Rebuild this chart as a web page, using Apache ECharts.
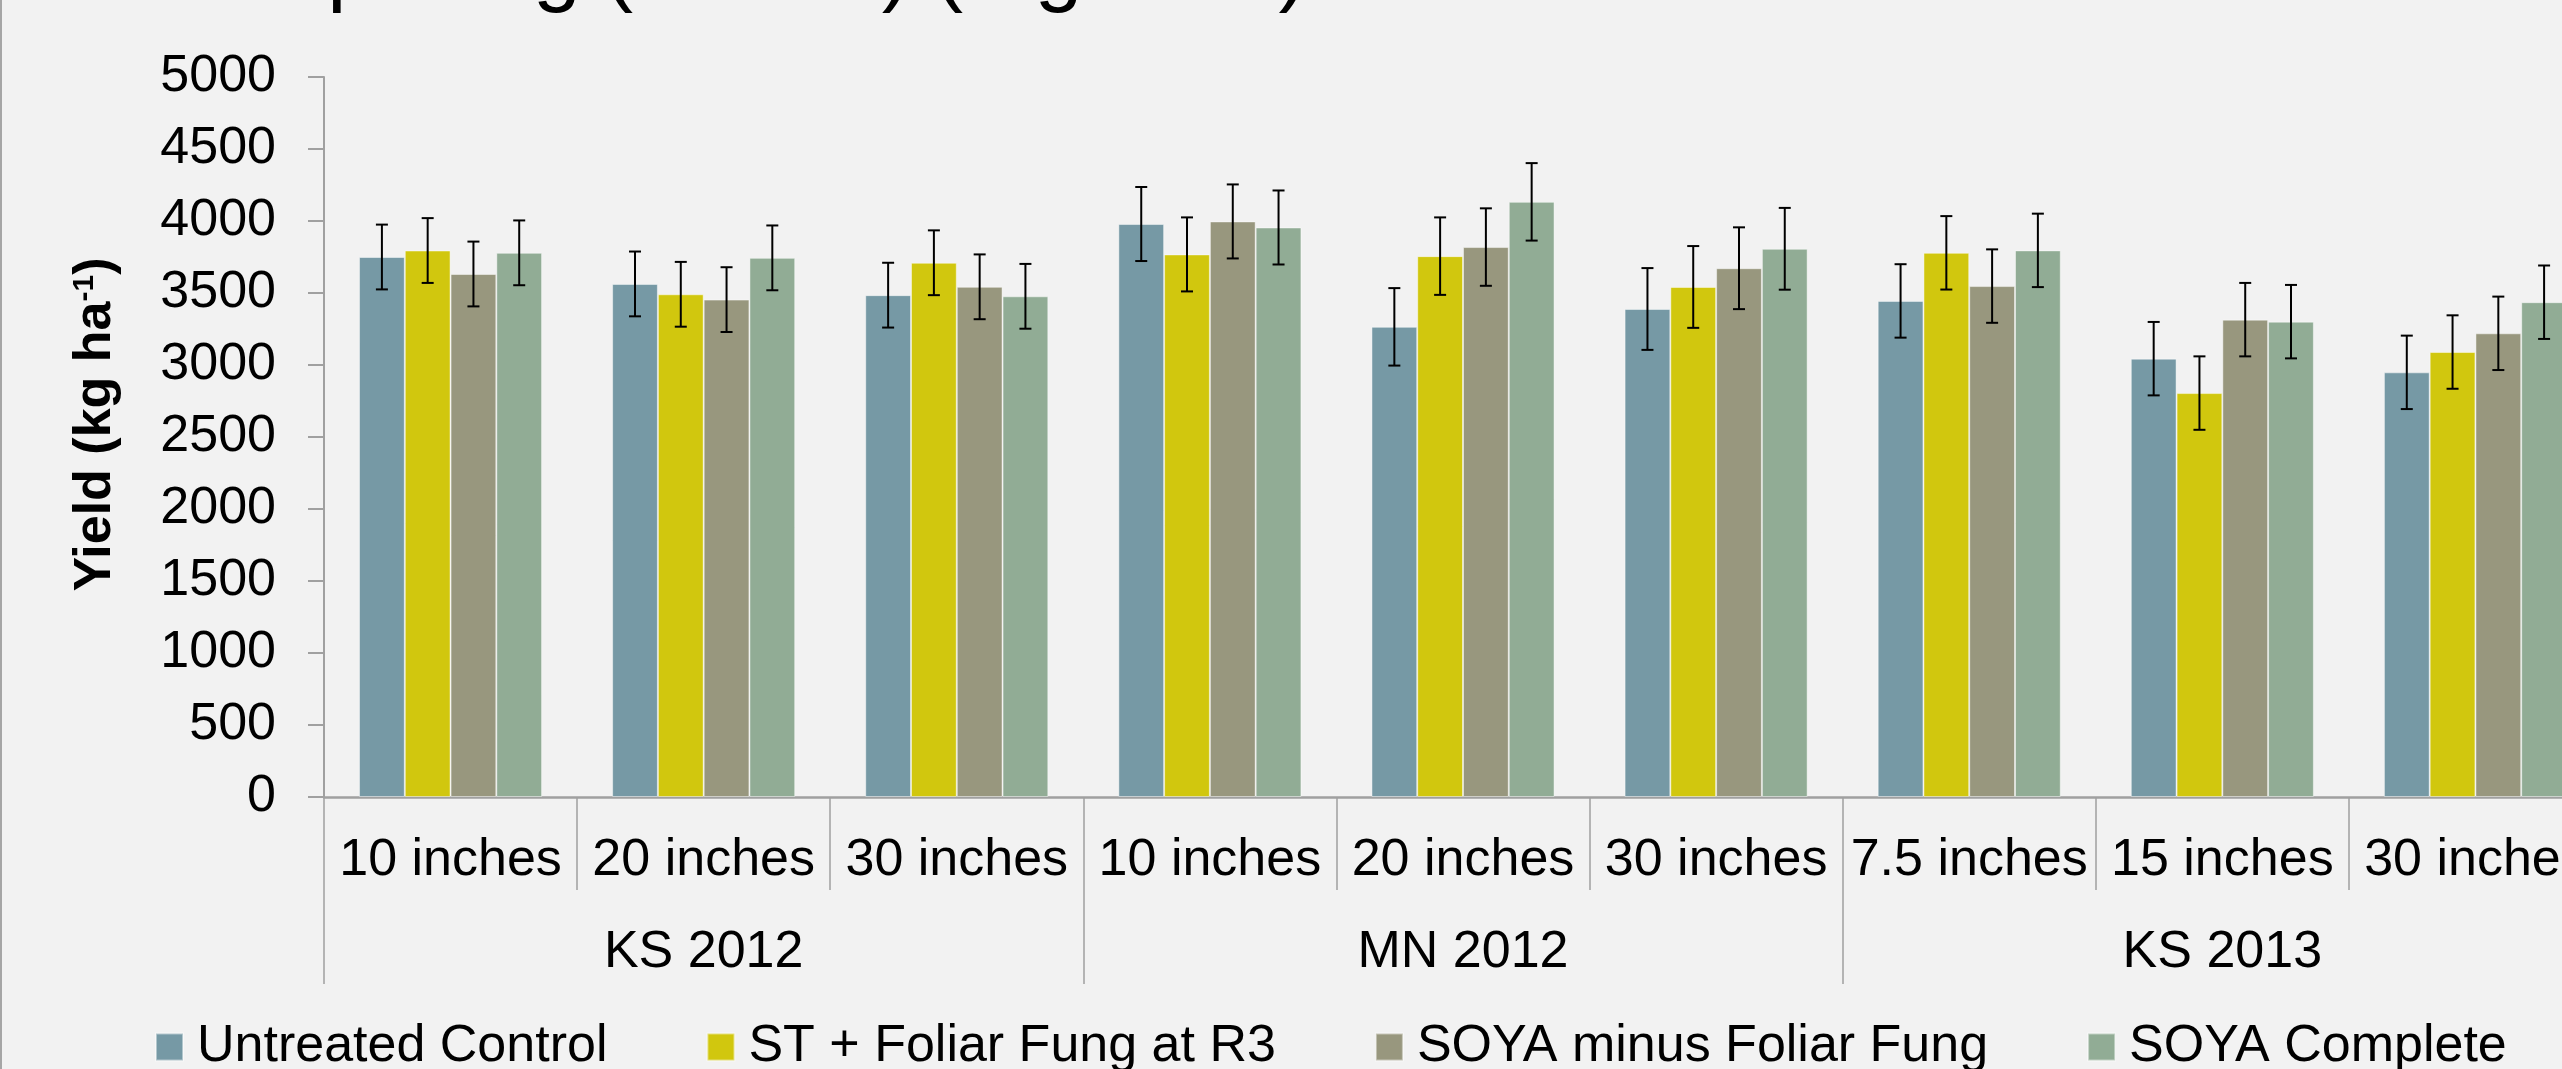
<!DOCTYPE html>
<html>
<head>
<meta charset="utf-8">
<style>
  html, body { margin: 0; padding: 0; background: #F2F2F2; overflow: hidden; width: 2562px; height: 1069px; }
  #chart { width: 2602px; height: 1069px; }
</style>
<script src="https://cdn.jsdelivr.net/npm/echarts@6/dist/echarts.min.js"></script>
</head>
<body>
<div id="chart"></div>
<script>
// ---- Data ----
const categories = ['10 inches', '20 inches', '30 inches', '10 inches', '20 inches', '30 inches', '7.5 inches', '15 inches', '30 inches'];
const groups = ['KS 2012', 'MN 2012', 'KS 2013'];
const seriesNames = ['Untreated Control', 'ST + Foliar Fung at R3', 'SOYA minus Foliar Fung', 'SOYA Complete'];
const untreatedControl = [3750, 3563, 3485, 3979, 3265, 3389, 3445, 3044, 2949];
const stFoliarFung     = [3795, 3491, 3710, 3768, 3756, 3542, 3779, 2805, 3090];
const soyaMinusFoliar  = [3632, 3454, 3543, 3997, 3819, 3672, 3548, 3315, 3220];
const soyaComplete     = [3779, 3744, 3477, 3955, 4133, 3807, 3796, 3301, 3436];
const errorHalfWidth   = [225, 225, 225, 257, 269, 284, 255, 255, 255];
const yTicks = { min: 0, max: 5000, interval: 500 };

// ---- Styles ----
const colors = ['#7699A5', '#D1C70E', '#98977E', '#91AC95'];
const FONT = 'Liberation Sans, Arial, sans-serif';
const GAP_RATIO = 0.2767;
const allValues = [untreatedControl, stFoliarFung, soyaMinusFoliar, soyaComplete];

const chart = echarts.init(document.getElementById('chart'), null, { renderer: 'canvas' });

function barSeries(i) {
  return {
    name: seriesNames[i],
    type: 'bar',
    xAxisIndex: 0,
    data: allValues[i],
    barGap: '0%',
    barCategoryGap: (GAP_RATIO * 100) + '%',
    itemStyle: { color: colors[i], borderColor: 'rgba(255,255,255,0.45)', borderWidth: 1 },
    emphasis: { disabled: true },
    z: 2
  };
}

function errorSeries(i) {
  return {
    name: seriesNames[i],
    type: 'custom',
    xAxisIndex: 0,
    z: 5,
    silent: true,
    encode: { x: 0, y: 1 },
    data: allValues[i].map((v, k) => [k, v, errorHalfWidth[k]]),
    renderItem: function (params, api) {
      const cat = api.value(0), val = api.value(1), err = api.value(2);
      const center = api.coord([cat, val]);
      const band = api.size([1, 0])[0];
      const bw = band * (1 - GAP_RATIO) / 4;
      const x = center[0] + (i - 1.5) * bw;
      const yTop = api.coord([cat, val + err])[1];
      const yBot = api.coord([cat, val - err])[1];
      const cap = 6;
      const st = { stroke: '#000', lineWidth: 2 };
      return {
        type: 'group',
        children: [
          { type: 'line', shape: { x1: x, y1: yTop, x2: x, y2: yBot }, style: st },
          { type: 'line', shape: { x1: x - cap, y1: yTop, x2: x + cap, y2: yTop }, style: st },
          { type: 'line', shape: { x1: x - cap, y1: yBot, x2: x + cap, y2: yBot }, style: st }
        ]
      };
    }
  };
}

const option = {
  backgroundColor: '#F2F2F2',
  animation: false,
  textStyle: { fontFamily: FONT },
  graphic: [
    { type: 'line', shape: { x1: 1, y1: 0, x2: 1, y2: 1069 }, style: { stroke: '#A6A6A6', lineWidth: 2 } },
    {
      type: 'text', x: 74, y: 14, z: 10,
      style: {
        text: 'Row Spacing (inches) (Mg ha-1)',
        fontSize: 86,
        fontFamily: FONT,
        fill: '#000',
        align: 'left',
        verticalAlign: 'bottom'
      }
    }
  ],
  legend: {
    data: seriesNames,
    left: 155,
    top: 1021,
    padding: 0,
    icon: 'rect',
    itemWidth: 27,
    itemHeight: 27,
    itemGap: 99,
    textStyle: { fontSize: 52, color: '#000', fontFamily: FONT, padding: [0, 0, 0, 9] },
    selectedMode: false
  },
  grid: { left: 324, right: 0, top: 77, bottom: 272, containLabel: false },
  xAxis: [
    {
      type: 'category',
      data: categories,
      position: 'bottom',
      axisLine: { show: true, lineStyle: { color: '#A0A0A0', width: 2.5 } },
      axisTick: { show: true, interval: 0, length: 93, lineStyle: { color: '#A0A0A0', width: 1.5 } },
      axisLabel: { interval: 0, fontSize: 52, color: '#000', fontFamily: FONT, margin: 38 },
      splitLine: { show: false }
    },
    {
      type: 'category',
      data: groups,
      position: 'bottom',
      axisLine: { show: false },
      axisTick: { show: true, interval: 0, length: 187, lineStyle: { color: '#A0A0A0', width: 1.5 } },
      axisLabel: { interval: 0, fontSize: 52, color: '#000', fontFamily: FONT, margin: 130 },
      splitLine: { show: false }
    }
  ],
  yAxis: {
    type: 'value',
    min: yTicks.min,
    max: yTicks.max,
    interval: yTicks.interval,
    name: '{b|Yield (kg ha}{s|-1}{b|)}',
    nameLocation: 'middle',
    nameRotate: 90,
    nameGap: 202,
    nameTextStyle: {
      padding: [0, 0, 0, 25],
      rich: {
        b: { fontSize: 52, fontWeight: 'bold', color: '#000', fontFamily: FONT },
        s: { fontSize: 30, fontWeight: 'bold', color: '#000', fontFamily: FONT, verticalAlign: 'top', padding: [0, 0, 22, 0] }
      }
    },
    axisLine: { show: true, lineStyle: { color: '#A0A0A0', width: 2 } },
    axisTick: { show: true, length: 16, lineStyle: { color: '#A0A0A0', width: 2 } },
    axisLabel: { fontSize: 52, color: '#000', fontFamily: FONT, margin: 48, formatter: (v) => String(v) },
    splitLine: { show: false }
  },
  series: [0, 1, 2, 3].map(barSeries).concat([0, 1, 2, 3].map(errorSeries))
};

chart.setOption(option);
</script>
</body>
</html>
